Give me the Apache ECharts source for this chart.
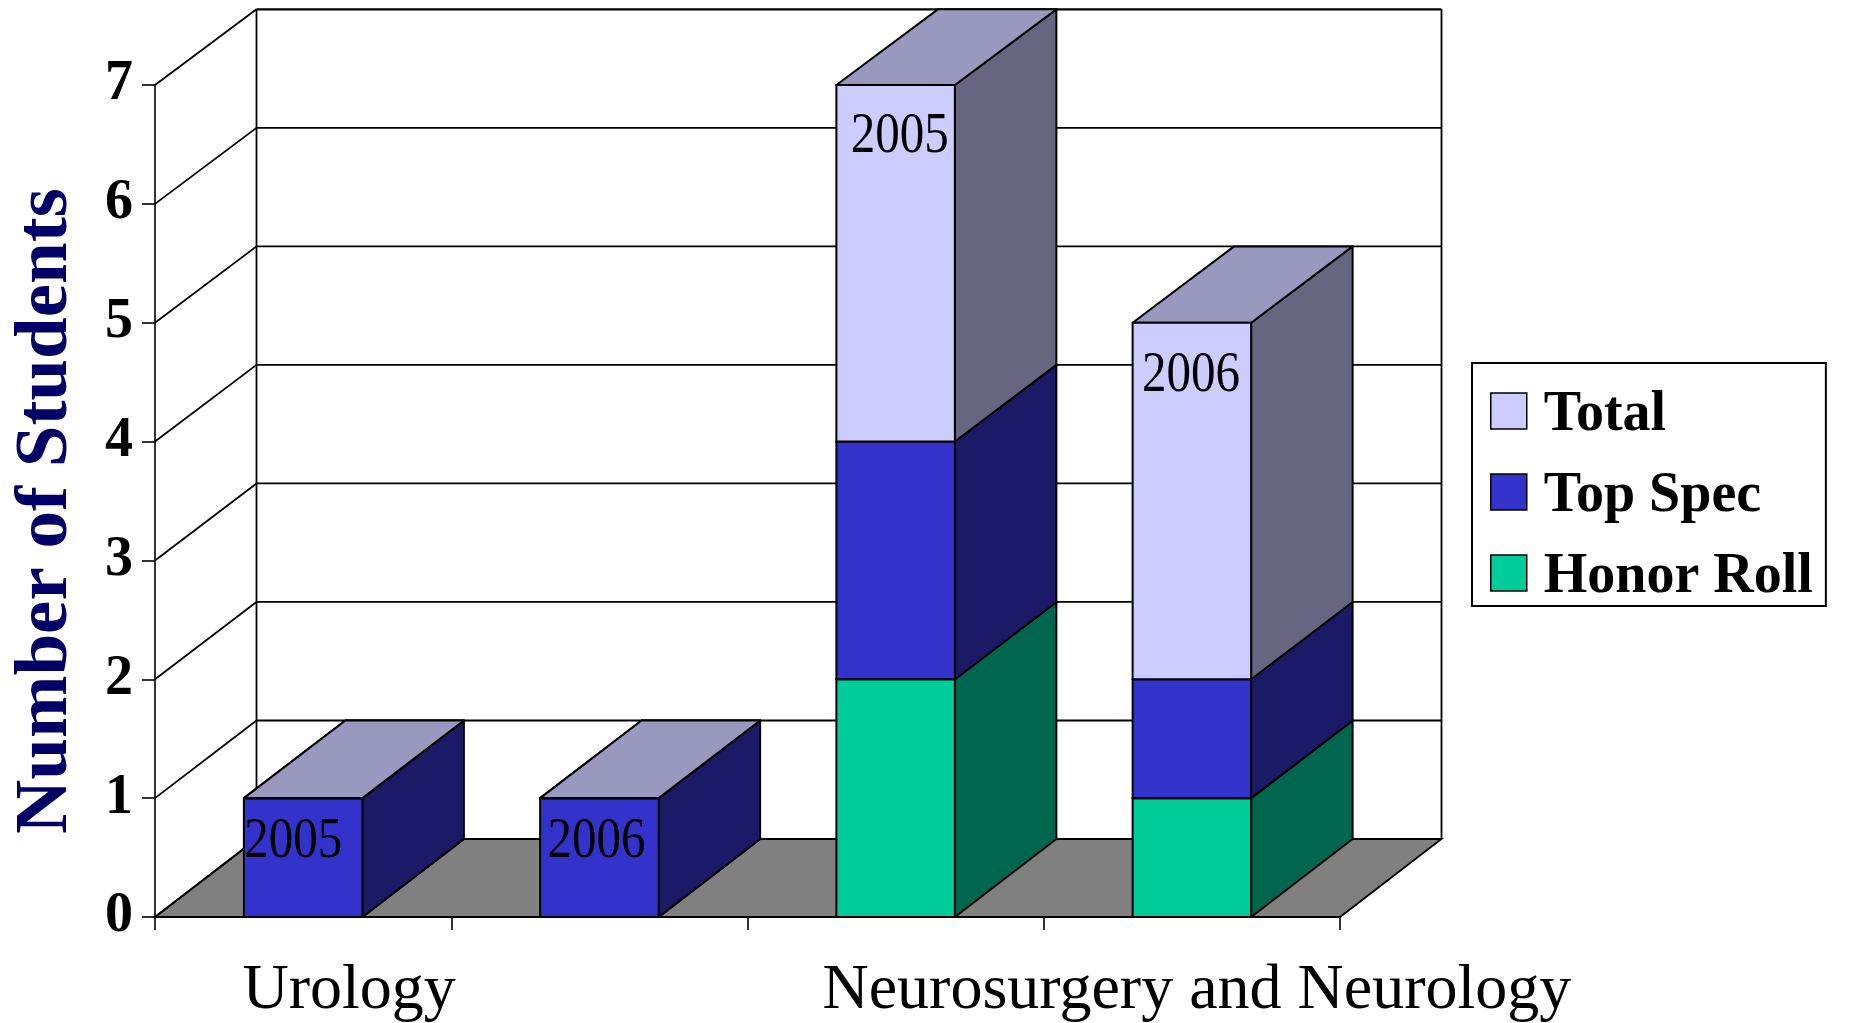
<!DOCTYPE html>
<html><head><meta charset="utf-8">
<style>html,body{margin:0;padding:0;background:#fff}#c{width:1866px;height:1023px}</style>
<script src="https://cdn.jsdelivr.net/npm/echarts@6/dist/echarts.min.js"></script>
</head><body><div id="c"></div>
<script>
// ---- data ----
const xLabels = ['Urology', '', '', 'Neurosurgery and Neurology'];
const years = ['2005', '2006', '2005', '2006'];
const honorRoll = [0, 0, 2, 1];
const topSpec = [1, 1, 2, 1];
const total = [0, 0, 3, 3];
const yTicks = [0, 1, 2, 3, 4, 5, 6, 7];

// ---- look ----
const FONT = '"Liberation Serif","Times New Roman",serif';
const DX = 101.5, LW = 1.8;
const back = y => y - 78 + (917 - y) * 0.0028;   // projection of the front plane onto the back wall
const barFrac = 0.4;
const yearNudge = [[-10, 44], [-3, 44], [4, 52], [-1, 54]];

const stackTop = i => honorRoll[i] + topSpec[i] + total[i];

function wallRender(params, api) {
  const cs = params.coordSys;
  const L = cs.x, R = cs.x + cs.width;
  const v = api.value(0);
  const y = api.coord([0, v])[1];
  const line = (x1, y1, x2, y2, w) => ({
    type: 'line', shape: { x1, y1, x2, y2 },
    style: { stroke: '#000', lineWidth: w || LW, fill: null }
  });
  const kids = [];
  if (params.dataIndex === 0) {
    kids.push({
      type: 'polygon',
      shape: { points: [[L, y], [L + DX, back(y)], [R + DX, back(y)], [R, y]] },
      style: { fill: '#808080', stroke: '#000', lineWidth: LW }
    });
    const yTop = back(api.coord([0, yTicks[yTicks.length - 1]])[1]);
    kids.push(line(L + DX, back(y), L + DX, yTop));
    kids.push(line(R + DX, back(y), R + DX, yTop));
  }
  kids.push(line(L, y, L + DX, back(y)));
  kids.push(line(L + DX, back(y), R + DX, back(y), v === yTicks[yTicks.length - 1] ? 2.4 : LW));
  return { type: 'group', children: kids };
}

function barRender(front, side, top) {
  return function (params, api) {
    const i = api.value(0), base = api.value(2), val = api.value(1);
    const p0 = api.coord([i, base]), p1 = api.coord([i, base + val]);
    const w = api.size([1, 0])[0] * barFrac;
    const a = p0[0] - w / 2, b = p0[0] + w / 2, y0 = p0[1], y1 = p1[1];
    const st = f => ({ fill: f, stroke: '#000', lineWidth: 2, lineJoin: 'round' });
    return {
      type: 'group', children: [
        { type: 'polygon', shape: { points: [[b, y0], [b + DX, back(y0)], [b + DX, back(y1)], [b, y1]] }, style: st(side) },
        { type: 'polygon', shape: { points: [[a, y1], [a + DX, back(y1)], [b + DX, back(y1)], [b, y1]] }, style: st(top) },
        { type: 'rect', shape: { x: a, y: y1, width: b - a, height: y0 - y1 }, style: st(front) }
      ]
    };
  };
}

function yearRender(params, api) {
  const i = api.value(0);
  const p = api.coord([i, api.value(1)]);
  const n = yearNudge[i];
  return {
    type: 'text', x: p[0] + n[0], y: p[1] + n[1], scaleX: 0.875, scaleY: 1,
    style: { text: years[i], font: '56px ' + FONT, fill: '#000', align: 'center', verticalAlign: 'middle' }
  };
}

const barSeries = (name, arr, below, front, side, top) => ({
  name, type: 'custom', coordinateSystem: 'cartesian2d', z: 3,
  itemStyle: { color: front },
  encode: { x: 0, y: 1 },
  data: arr.map((v, i) => [i, v, below(i)]),
  renderItem: barRender(front, side, top)
});

const option = {
  animation: false,
  backgroundColor: '#fff',
  textStyle: { fontFamily: FONT },
  grid: { left: 155, top: 85, width: 1185, height: 832, containLabel: false, outerBoundsMode: 'none' },
  legend: {
    data: ['Total', 'Top Spec', 'Honor Roll'],
    orient: 'vertical', left: 1472, top: 363,
    itemWidth: 36, itemHeight: 36, itemGap: 25,
    padding: [25, 13, 0, 18],
    backgroundColor: '#fff', borderColor: '#000', borderWidth: 2,
    icon: 'rect', selectedMode: false,
    itemStyle: { borderColor: '#000', borderWidth: 1.5 },
    formatter: name => '{t|' + name + '}',
    textStyle: {
      fontFamily: FONT, fontSize: 56, fontWeight: 'bold', color: '#000',
      rich: { t: { fontFamily: FONT, fontSize: 56, fontWeight: 'bold', color: '#000', padding: [10, 0, 0, 12] } }
    }
  },
  xAxis: {
    type: 'category',
    data: [
      { value: xLabels[0], textStyle: { padding: [0, 0, 0, 92] } },
      xLabels[1], xLabels[2],
      { value: xLabels[3], textStyle: { padding: [0, 0, 0, 10] } }
    ],
    axisLine: { lineStyle: { color: '#000', width: 2 } },
    axisTick: { show: true, length: 13, alignWithLabel: false, lineStyle: { color: '#000', width: 1.6 } },
    axisLabel: { interval: 0, margin: 42, color: '#000', fontFamily: FONT, fontSize: 64 },
    splitLine: { show: false }
  },
  yAxis: {
    type: 'value', min: 0, max: 7, interval: 1,
    name: 'Number of Students', nameLocation: 'middle', nameGap: 71,
    nameTextStyle: { fontFamily: FONT, fontSize: 75, fontWeight: 'bold', color: '#000066', padding: [0, 20, 0, 0] },
    axisLine: { show: true, lineStyle: { color: '#000', width: 1.6 } },
    axisTick: { show: true, length: 13, lineStyle: { color: '#000', width: 1.6 } },
    axisLabel: { margin: 22, color: '#000', fontFamily: FONT, fontSize: 56, fontWeight: 'bold', padding: [8, 0, 0, 0] },
    splitLine: { show: false }
  },
  series: [
    { name: 'wall', type: 'custom', coordinateSystem: 'cartesian2d', z: 1, silent: true,
      encode: { y: 0 }, data: yTicks.map(v => [v]), renderItem: wallRender },
    barSeries('Honor Roll', honorRoll, () => 0, '#00CC99', '#00664D', '#66A08F'),
    barSeries('Top Spec', topSpec, i => honorRoll[i], '#3333CC', '#1A1A66', '#9999BF'),
    barSeries('Total', total, i => honorRoll[i] + topSpec[i], '#CCCCFF', '#666680', '#9999BF'),
    { name: 'year', type: 'custom', coordinateSystem: 'cartesian2d', z: 5, silent: true,
      encode: { x: 0, y: 1 }, data: years.map((y, i) => [i, stackTop(i)]), renderItem: yearRender }
  ]
};
const chart = echarts.init(document.getElementById('c'), null, { renderer: 'canvas' });
chart.setOption(option);
</script></body></html>
